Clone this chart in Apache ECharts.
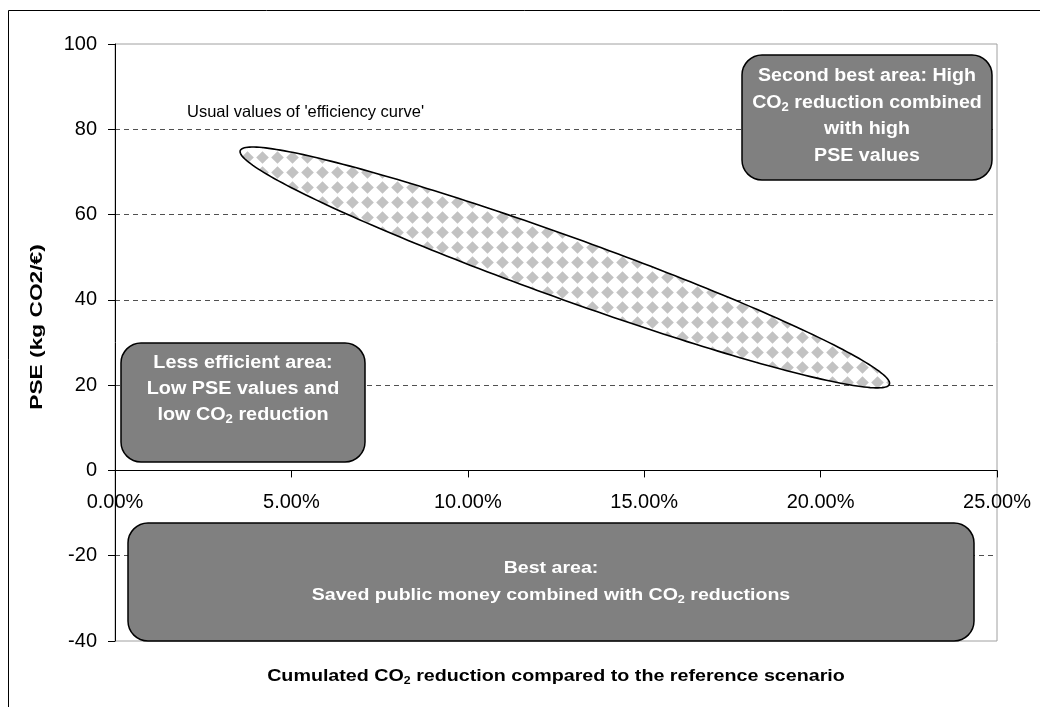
<!DOCTYPE html>
<html><head><meta charset="utf-8">
<script src="https://cdn.jsdelivr.net/npm/echarts@6/dist/echarts.min.js"></script>
<style>html,body{margin:0;padding:0;background:#fff}#c{width:1040px;height:707px}</style>
</head><body><div id="c"></div><script>
// ---- data ----
const xTicks = [0, 5, 10, 15, 20, 25];          // % CO2 reduction
const yTicks = [-40, -20, 0, 20, 40, 60, 80, 100]; // PSE (kg CO2/€)
const dashedLevels = [-20, 20, 40, 60, 80];
const efficiencyTips = [[3.55, 75.0], [21.95, 20.2]]; // ends of the 'efficiency curve' band
const curveLabel = "Usual values of 'efficiency curve'";
const secondBestLines = ['Second best area: High', '{n|CO}{s|2}{n| reduction combined}', 'with high', 'PSE values'];
const lessEfficientLines = ['Less efficient area:', 'Low PSE values and', '{n|low CO}{s|2}{n| reduction}'];
const bestLines = ['Best area:', '{n|Saved public money combined with CO}{s|2}{n| reductions}'];
const xTitle = '{n|Cumulated CO}{s|2}{n| reduction compared to the reference scenario}';
const yTitle = 'PSE (kg CO2/€)';

// ---- styles ----
const FONT = 'Liberation Sans, Arial, sans-serif';
const BAND_HALF_WIDTH = 31;

const pat = document.createElement('canvas');
pat.width = 15; pat.height = 15;
(function(){
  const g = pat.getContext('2d');
  g.fillStyle = '#fff'; g.fillRect(0,0,15,15);
  g.fillStyle = '#c2c2c2';
  g.beginPath(); g.moveTo(7.5,1.2); g.lineTo(13.8,7.5); g.lineTo(7.5,13.8); g.lineTo(1.2,7.5); g.closePath(); g.fill();
})();

const chart = echarts.init(document.getElementById('c'), null, {renderer: 'canvas'});

function richDef(size, color, lh) {
  return {
    n: {fontSize: size, fontWeight: 'bold', fontFamily: FONT, fill: color, lineHeight: lh},
    s: {fontSize: Math.round(size * 0.65), fontWeight: 'bold', fontFamily: FONT, fill: color,
        padding: [Math.round(size*0.55), 0, 0, 0]}
  };
}
function box(x, y, w, h, lines, tx, ty, size, lh, sx) {
  return [
    {type: 'rect', z: 100, shape: {x: x, y: y, width: w, height: h, r: 20},
     style: {fill: '#808080', stroke: '#000', lineWidth: 1.5}},
    {type: 'text', z: 101, x: tx, y: ty, scaleX: sx,
     style: {text: lines.map(l => l.indexOf('{') === 0 ? l : '{n|' + l + '}').join('\n'),
       rich: richDef(size, '#fff', lh),
       align: 'center', verticalAlign: 'middle', fill: '#fff', fontSize: size, fontWeight: 'bold', fontFamily: FONT, lineHeight: lh}}
  ];
}

const sepColors = yTicks.map(v => dashedLevels.indexOf(v) >= 0 ? '#505050' : 'rgba(0,0,0,0)');
const GRID = {left: 115, right: 43, top: 44, bottom: 66};
const plotH = 707 - GRID.top - GRID.bottom;
const zeroOffset = -plotH * (0 - yTicks[0]) / (yTicks[yTicks.length-1] - yTicks[0]);

const option = {
  animation: false,
  backgroundColor: '#fff',
  grid: Object.assign({show: true, borderColor: '#a0a0a0', borderWidth: 1}, GRID),
  xAxis: {
    type: 'value', min: xTicks[0], max: xTicks[xTicks.length-1], interval: xTicks[1]-xTicks[0],
    position: 'bottom', offset: zeroOffset,
    axisLine: {onZero: false, lineStyle: {color: '#000', width: 1}},
    axisTick: {show: true, length: 7, lineStyle: {color: '#000'}},
    axisLabel: {margin: 22, fontSize: 20, color: '#000', fontFamily: FONT, formatter: v => v.toFixed(2) + '%'},
    splitLine: {show: false}
  },
  yAxis: {
    type: 'value', min: yTicks[0], max: yTicks[yTicks.length-1], interval: yTicks[1]-yTicks[0],
    axisLine: {show: true, onZero: false, lineStyle: {color: '#000', width: 1}},
    axisTick: {show: true, length: 7, lineStyle: {color: '#000'}},
    axisLabel: {margin: 18, fontSize: 20, color: '#000', fontFamily: FONT},
    splitLine: {show: true, lineStyle: {color: sepColors, type: [5, 4], width: 1}}
  },
  series: [{
    type: 'custom',
    coordinateSystem: 'cartesian2d',
    encode: {x: [0, 2], y: [1, 3]},
    data: [[efficiencyTips[0][0], efficiencyTips[0][1], efficiencyTips[1][0], efficiencyTips[1][1]]],
    z: 5,
    renderItem: function (params, api) {
      const p1 = api.coord([api.value(0), api.value(1)]);
      const p2 = api.coord([api.value(2), api.value(3)]);
      const cx = (p1[0]+p2[0])/2, cy = (p1[1]+p2[1])/2;
      const a = Math.hypot(p2[0]-p1[0], p2[1]-p1[1]) / 2;
      const ang = Math.atan2(p2[1]-p1[1], p2[0]-p1[0]);
      const b = BAND_HALF_WIDTH;
      const pts = [];
      for (let i = 0; i < 240; i++) {
        const t = i / 240 * Math.PI * 2;
        const u = a * Math.cos(t), w = b * Math.sin(t);
        pts.push([cx + u*Math.cos(ang) - w*Math.sin(ang), cy + u*Math.sin(ang) + w*Math.cos(ang)]);
      }
      return {type: 'polygon', shape: {points: pts},
        style: {fill: {image: pat, repeat: 'repeat'}, stroke: '#000', lineWidth: 1.6}};
    }
  }],
  graphic: [
    {type: 'rect', z: 1, silent: true, shape: {x: 8.5, y: 10.5, width: 1200, height: 900},
     style: {fill: 'none', stroke: '#000', lineWidth: 1}},
    {type: 'text', z: 50, x: 187, y: 112,
     style: {text: curveLabel, fontSize: 16.5, fontFamily: FONT, fill: '#000', verticalAlign: 'middle', align: 'left'}},
    {type: 'text', z: 50, x: 38, y: 327, rotation: Math.PI/2, scaleX: 1.42,
     style: {text: yTitle, fontSize: 16, fontWeight: 'bold', fontFamily: FONT, fill: '#000', align: 'center', verticalAlign: 'middle'}},
    {type: 'text', z: 50, x: 556, y: 677, scaleX: 1.23,
     style: {text: xTitle, rich: richDef(16, '#000', 20), align: 'center', verticalAlign: 'middle', fill: '#000'}},
    ...box(742, 55, 250, 125, secondBestLines, 867, 116, 18, 26.5, 1.09),
    ...box(121, 343, 244, 119, lessEfficientLines, 243, 389, 18, 26, 1.1),
    ...box(128, 523, 846, 118, bestLines, 551, 582, 17, 27, 1.15)
  ]
};
chart.setOption(option);
</script></body></html>
